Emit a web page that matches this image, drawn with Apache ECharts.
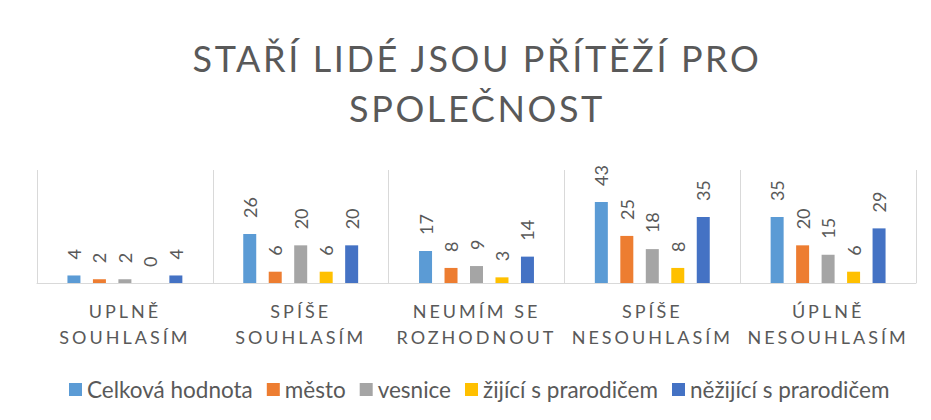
<!DOCTYPE html>
<html>
<head>
    <meta charset="utf-8">
    <title>chart</title>
    <style>
        html, body { margin: 0; padding: 0; background: #fff; }
        #chart { width: 931px; height: 420px; }
    </style>
    <script src="https://cdn.jsdelivr.net/npm/echarts@6/dist/echarts.min.js"></script>
</head>
<body>
<div id="chart"></div>
<script>
    // data
    const categories = ['UPLNĚ SOUHLASÍM', 'SPÍŠE SOUHLASÍM', 'NEUMÍM SE ROZHODNOUT', 'SPÍŠE NESOUHLASÍM', 'ÚPLNĚ NESOUHLASÍM'];
    const seriesNames = ['Celková hodnota', 'město', 'vesnice', 'žijící s prarodičem', 'něžijící s prarodičem'];
    const celkem = [4, 26, 17, 43, 35];
    const mesto = [2, 6, 8, 25, 20];
    const vesnice = [2, 20, 9, 18, 15];
    const zijici = [0, 6, 3, 8, 6];
    const nezijici = [4, 20, 14, 35, 29];
    const colors = ['#5B9BD5', '#ED7D31', '#A5A5A5', '#FFC000', '#4472C4'];

    const font = 'Lato, "Open Sans", sans-serif';
    const gray = '#595959';
    const titleLines = ['STAŘÍ LIDÉ JSOU PŘÍTĚŽÍ PRO', 'SPOLEČNOST'];

    const values = [celkem, mesto, vesnice, zijici, nezijici];

    const chart = echarts.init(document.getElementById('chart'), null, {renderer: 'svg'});
    chart.setOption({
        animation: false,
        color: colors,
        title: {
            text: titleLines.join('\n'),
            left: 472,
            textAlign: 'center',
            top: 28,
            textStyle: {
                color: gray,
                fontFamily: font,
                fontWeight: 'normal',
                fontSize: 36,
                lineHeight: 50
            }
        },
        legend: {
            bottom: 14,
            left: 64,
            icon: 'rect',
            itemWidth: 13,
            itemHeight: 13,
            itemGap: 14,
            textStyle: { color: gray, fontFamily: font, fontSize: 22.5 }
        },
        grid: { left: 37, right: 15, top: 170, bottom: 137 },
        xAxis: {
            type: 'category',
            data: categories,
            axisLine: { lineStyle: { color: '#d9d9d9' } },
            axisTick: { show: false },
            splitLine: { show: true, lineStyle: { color: '#d9d9d9' } },
            axisLabel: {
                interval: 0,
                color: gray,
                fontFamily: font,
                fontSize: 18,
                lineHeight: 26,
                margin: 15,
                formatter: function (v) {
                    const i = v.lastIndexOf(' ');
                    return v.slice(0, i) + '\n' + v.slice(i + 1);
                }
            }
        },
        yAxis: {
            type: 'value',
            min: 0,
            max: 60,
            show: false
        },
        series: seriesNames.map(function (name, i) {
            return {
                name: name,
                type: 'bar',
                barWidth: 13,
                barGap: '96%',
                data: values[i],
                label: {
                    show: true,
                    position: 'top',
                    rotate: 90,
                    align: 'left',
                    verticalAlign: 'middle',
                    distance: 16,
                    color: gray,
                    fontFamily: font,
                    fontSize: 18
                }
            };
        })
    });

    // letter spacing for title and axis labels (svg text)
    function spacing() {
        const axisSet = {};
        categories.forEach(function (c) {
            const i = c.lastIndexOf(' ');
            axisSet[c.slice(0, i)] = 1;
            axisSet[c.slice(i + 1)] = 1;
        });
        document.querySelectorAll('#chart text').forEach(function (t) {
            const s = t.textContent;
            if (axisSet[s]) {
                t.setAttribute('letter-spacing', '3');
            } else if (titleLines.indexOf(s) >= 0) {
                t.setAttribute('letter-spacing', '2.6');
            }
        });
    }
    chart.on('finished', spacing);
    spacing();
</script>
</body>
</html>
